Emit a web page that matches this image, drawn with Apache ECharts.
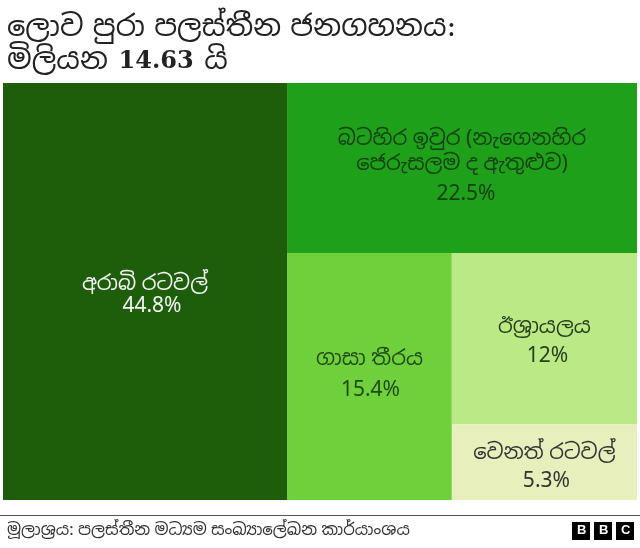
<!DOCTYPE html>
<html lang="si">
<head>
    <meta charset="UTF-8">
    <title>ලොව පුරා පලස්තීන ජනගහනය</title>
    <script src="https://cdnjs.cloudflare.com/ajax/libs/echarts/6.0.0/echarts.min.js"></script>
    <style>
        html, body { margin: 0; padding: 0; background: #fff; }
        #chart { width: 640px; height: 548px; }
    </style>
</head>
<body>
<div id="chart"></div>
<script>
    const titleLine1 = 'ලොව පුරා පලස්තීන ජනගහනය:';
    const titleLine2 = ['මිලියන', '14.63', 'යි'];
    const sourceText = 'මූලාශ්‍රය: පලස්තීන මධ්‍යම සංඛ්‍යාලේඛන කාර්යාංශය';

    const regions = ['අරාබි රටවල්', 'බටහිර ඉවුර (නැගෙනහිර\nජෙරුසලම ද ඇතුළුව)', 'ගාසා තීරය', 'ඊශ්‍රායලය', 'වෙනත් රටවල්'];
    const shares = [44.8, 22.5, 15.4, 12, 5.3];
    const fills = ['#1e5e0b', '#1fa01a', '#70d03c', '#bbe985', '#e7efbc'];
    const inks = ['#f4f4f4', '#143f10', '#1f4a16', '#24401c', '#333333'];
    // the source labels are not evenly set, so spacing is kept per region
    const pctLeading = [19, 35, 37, 33, 31];
    const pctIndent = [14, 8, 2, 6, 4];
    // rich labels sit at the top of their cell, this moves them down to where the source has them
    const labelDrop = [184, 39, 89, 57, 11];

    const chart = echarts.init(document.getElementById('chart'), null, { renderer: 'canvas' });

    const font = '"Noto Sans", "Noto Sans Sinhala", "Noto Serif Sinhala", sans-serif';
    const titleFont = '"DejaVu Serif", "Noto Sans Sinhala", "Noto Serif Sinhala", serif';

    const bbc = ['B', 'B', 'C'].flatMap(function (letter, i) {
        const x = 572 + i * 22;
        return [
            { type: 'rect', left: x, top: 522, shape: { width: 18, height: 18 }, style: { fill: '#000' } },
            { type: 'text', left: x + 5, top: 524, style: { text: letter, fill: '#fff', font: 'bold 13px "Liberation Sans"' } }
        ];
    });

    chart.setOption({
        animation: false,
        textStyle: { fontFamily: font },
        title: {
            text: '{a|' + titleLine1 + '}\n{a|' + titleLine2[0] + '} {n|' + titleLine2[1] + '} {a|' + titleLine2[2] + '}',
            left: 7,
            top: 12,
            padding: 0,
            textStyle: {
                fontWeight: 'normal',
                rich: {
                    a: { fontFamily: titleFont, fontSize: 29, lineHeight: 33, fontWeight: 'normal', color: '#222' },
                    n: { fontFamily: '"DejaVu Serif", serif', fontSize: 24, lineHeight: 33, fontWeight: 'bold', color: '#222', padding: [0, 6, 0, 6] }
                }
            }
        },
        series: [{
            type: 'treemap',
            left: 3,
            top: 83,
            width: 634,
            height: 417,
            squareRatio: 0.9,
            roam: false,
            nodeClick: false,
            silent: true,
            breadcrumb: { show: false },
            itemStyle: { gapWidth: 0, borderWidth: 0 },
            label: {
                show: true,
                position: 'inside',
                align: 'center',
                formatter: function (p) {
                    const names = p.name.split('\n').map(function (line) { return '{n|' + line + '}'; });
                    return names.join('\n') + '\n{p|' + p.value + '%}';
                }
            },
            data: regions.map(function (name, i) {
                const text = { fontFamily: font, color: inks[i], fontSize: 21 };
                return {
                    name: name,
                    value: shares[i],
                    itemStyle: { color: fills[i] },
                    label: {
                        color: inks[i],
                        offset: [0, labelDrop[i]],
                        rich: {
                            n: Object.assign({ lineHeight: 25 }, text),
                            p: Object.assign({ lineHeight: pctLeading[i], padding: [0, 0, 0, pctIndent[i]] }, text)
                        }
                    }
                };
            })
        }],
        graphic: [
            { type: 'rect', left: 0, top: 515, shape: { width: 640, height: 1 }, style: { fill: '#555' } },
            { type: 'text', left: 7, top: 522, style: { text: sourceText, fill: '#333', font: '16.5px ' + font } }
        ].concat(bbc)
    });
</script>
</body>
</html>
